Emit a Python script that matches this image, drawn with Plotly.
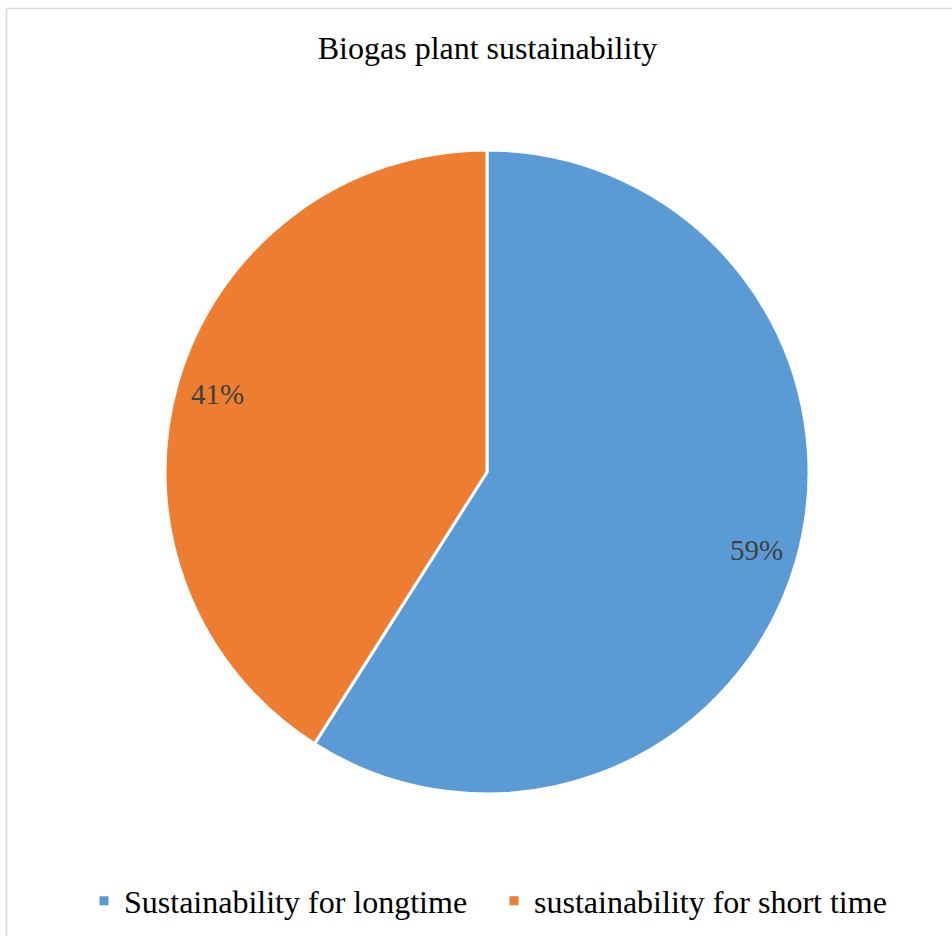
import math
import plotly.graph_objects as go

# Survey result: how long biogas plants remain in service
categories = ["Sustainability for longtime", "sustainability for short time"]
shares = [59, 41]
colors = ["#5B9BD5", "#ED7D31"]

W, H = 952, 936
FONT = "Liberation Serif"

# pie geometry in pixels (centre and radius)
CX, CY, R = 487, 472, 322
LABEL_R = 0.87  # data labels sit near the rim, as a fraction of the radius

fig = go.Figure(
    go.Pie(
        labels=categories,
        values=shares,
        sort=False,
        direction="clockwise",
        rotation=0,
        marker=dict(colors=colors, line=dict(color="white", width=3)),
        textinfo="none",
        hoverinfo="label+percent",
        domain=dict(x=[(CX - R) / W, (CX + R) / W], y=[(H - CY - R) / H, (H - CY + R) / H]),
    )
)

# percentage labels placed on each slice's mid-angle (clockwise from 12 o'clock)
total = sum(shares)
annotations = []
cum = 0
for v in shares:
    mid = (cum + v / 2) / total * 2 * math.pi
    cum += v
    px = CX + LABEL_R * R * math.sin(mid)
    py = CY - LABEL_R * R * math.cos(mid)
    annotations.append(
        dict(
            text=f"{round(v / total * 100)}%",
            x=px / W,
            y=1 - py / H,
            xref="paper",
            yref="paper",
            xanchor="center",
            yanchor="middle",
            showarrow=False,
            font=dict(family=FONT, size=29, color="#404040"),
        )
    )

fig.update_layout(
    width=W,
    height=H,
    margin=dict(l=0, r=0, t=0, b=0),
    paper_bgcolor="white",
    plot_bgcolor="white",
    font=dict(family=FONT, color="#000000"),
    title=dict(
        text="Biogas plant sustainability",
        font=dict(family=FONT, size=32, color="#000000"),
        x=487.5 / W,
        xanchor="center",
        y=1 - 48 / H,
        yanchor="middle",
        yref="paper",
    ),
    showlegend=True,
    legend=dict(
        orientation="h",
        x=494 / W,
        xanchor="center",
        y=(H - 901) / H,
        yanchor="middle",
        font=dict(family=FONT, size=32, color="#000000"),
        itemwidth=30,
        entrywidth=365,
        bgcolor="rgba(0,0,0,0)",
    ),
    annotations=annotations,
    shapes=[
        dict(
            type="rect",
            xref="paper",
            yref="paper",
            x0=6.5 / W,
            x1=1.05,
            y0=-0.05,
            y1=1 - 8.5 / H,
            line=dict(color="#D9D9D9", width=1.5),
            fillcolor="rgba(0,0,0,0)",
            layer="below",
        )
    ],
)

fig.write_html("out.html")
